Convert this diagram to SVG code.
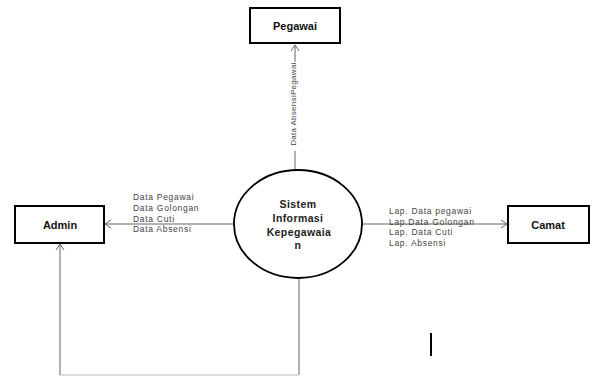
<svg xmlns="http://www.w3.org/2000/svg" width="597" height="376" viewBox="0 0 597 376">
<style>
.box{fill:#fff;stroke:#000;stroke-width:2}
.lbl{font-family:"Liberation Sans",Arial,sans-serif;font-weight:bold;font-size:11px;fill:#111;text-anchor:middle}
.ctext{font-family:"Liberation Sans",Arial,sans-serif;font-weight:bold;font-size:10.5px;fill:#222;text-anchor:middle;letter-spacing:0.4px}
.flow{font-family:"Liberation Sans",Arial,sans-serif;font-size:8.5px;fill:#444;letter-spacing:0.7px}
.conn{fill:none;stroke:#666;stroke-width:1}
</style>
<defs>
<marker id="arr" markerWidth="10" markerHeight="10" refX="8" refY="5" orient="auto" markerUnits="userSpaceOnUse">
<path d="M2,1 L8,5 L2,9" fill="none" stroke="#666" stroke-width="1"/>
</marker>
</defs>
<rect width="597" height="376" fill="#fff"/>
<g id="connectors">
<line class="conn" x1="295" y1="62" x2="295" y2="45" marker-end="url(#arr)"/>
<line class="conn" x1="295" y1="170" x2="295" y2="151"/>
<line class="conn" x1="234" y1="224" x2="105" y2="224" marker-end="url(#arr)"/>
<line class="conn" x1="362" y1="224" x2="507" y2="224" marker-end="url(#arr)"/>
<polyline class="conn" points="299,278 299,375"/>
<polyline class="conn" points="299,375 60,375" style="stroke:#bbb"/>
<polyline class="conn" points="60,375 60,244" marker-end="url(#arr)"/>
<text class="flow" transform="translate(296,104) rotate(-90)" text-anchor="middle" style="font-size:8px;letter-spacing:0.3px">Data AbsensiPegawai</text>
<text class="flow" x="133" y="200">Data Pegawai</text>
<text class="flow" x="133" y="211">Data Golongan</text>
<text class="flow" x="133" y="222">Data Cuti</text>
<text class="flow" x="133" y="232">Data Absensi</text>
<text class="flow" x="389" y="214">Lap. Data pegawai</text>
<text class="flow" x="389" y="225">Lap.Data Golongan</text>
<text class="flow" x="389" y="235">Lap. Data Cuti</text>
<text class="flow" x="389" y="246">Lap. Absensi</text>
</g>
<g id="pegawai">
<rect class="box" x="250" y="8" width="90" height="35"/>
<text class="lbl" x="295" y="30">Pegawai</text>
</g>
<g id="admin">
<rect class="box" x="15" y="206" width="89" height="37"/>
<text class="lbl" x="60" y="229">Admin</text>
</g>
<g id="camat">
<rect class="box" x="508" y="206" width="81" height="37"/>
<text class="lbl" x="548" y="229">Camat</text>
</g>
<g id="sistem">
<ellipse cx="298" cy="224" rx="64" ry="54" fill="#fff" stroke="#000" stroke-width="1.8"/>
<text class="ctext" x="298" y="208">Sistem</text>
<text class="ctext" x="298" y="222">Informasi</text>
<text class="ctext" x="299" y="236">Kepegawaia</text>
<text class="ctext" x="298" y="249">n</text>
</g>
<line x1="431" y1="333" x2="431" y2="356" stroke="#000" stroke-width="2"/>
</svg>
